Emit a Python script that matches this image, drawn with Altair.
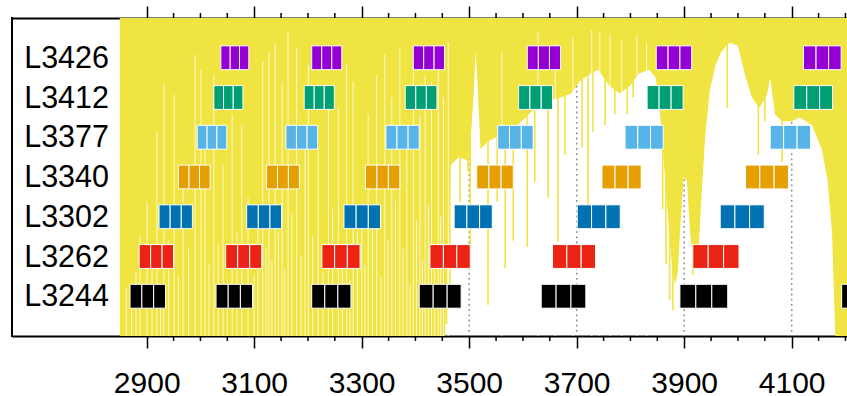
import altair as alt
import pandas as pd

# ---- rows (bottom to top) and their colours ----
rows = ["L3244", "L3262", "L3302", "L3340", "L3377", "L3412", "L3426"]
row_colors = ["#000000", "#EB2312", "#0072B2", "#E69F00", "#56B4E9", "#009E73", "#9400D3"]

# ---- wavelength coverage of each block (start / end) per row ----
starts_L3244 = [2869, 3029, 3207, 3407, 3634, 3892, 4193]
ends_L3244 = [2935, 3097, 3280, 3485, 3717, 3981, 4289]
starts_L3262 = [2886, 3047, 3226, 3427, 3655, 3916]
ends_L3262 = [2950, 3114, 3297, 3502, 3735, 4002]
starts_L3302 = [2923, 3086, 3267, 3472, 3701, 3967]
ends_L3302 = [2985, 3151, 3335, 3543, 3781, 4049]
starts_L3340 = [2959, 3123, 3307, 3514, 3747, 4014]
ends_L3340 = [3018, 3184, 3371, 3582, 3820, 4094]
starts_L3377 = [2994, 3159, 3345, 3553, 3790, 4060]
ends_L3377 = [3049, 3218, 3407, 3619, 3861, 4135]
starts_L3412 = [3025, 3193, 3381, 3592, 3831, 4104]
ends_L3412 = [3079, 3249, 3440, 3655, 3898, 4176]
starts_L3426 = [3038, 3207, 3396, 3608, 3848, 4122]
ends_L3426 = [3090, 3263, 3454, 3670, 3914, 4192]

# ---- transmission band: lower edge of the shaded region ----
env_x = [2850, 3455, 3460, 3466, 3480, 3500, 3508, 3512, 3516, 3521, 3535,
         3550, 3570, 3590, 3605, 3620, 3640, 3670, 3690, 3705, 3725, 3740, 3760,
         3780, 3800, 3815, 3835, 3847, 3855, 3862, 3870, 3877, 3883, 3888, 3893,
         3899, 3905, 3911, 3918, 3926, 3933, 3939, 3948, 3958, 3967, 3978, 3985, 4000,
         4013, 4026, 4040, 4054, 4060, 4069, 4082, 4100, 4115, 4138, 4156, 4167,
         4175, 4179, 4181, 4203]
env_y = [0.0, 0.0, 2.0, 4.3, 4.5, 4.4, 6.0, 7.2, 6.2, 4.7, 4.9,
         5.0, 5.0, 5.3, 5.5, 5.7, 5.9, 6.0, 6.1, 6.4, 6.6, 6.7, 6.3,
         6.1, 6.3, 6.6, 6.7, 6.5, 5.6, 4.4, 3.0, 1.8, 1.3, 1.6, 2.8,
         4.0, 3.9, 2.6, 1.8, 2.0, 3.7, 5.0, 6.2, 6.8, 7.1, 7.3, 7.38, 7.3,
         6.57, 6.0, 5.74, 6.07, 6.5, 5.57, 5.4, 5.4, 5.5, 5.3, 4.7, 3.9,
         2.6, 0.95, 0.0, 0.0]

# narrow transparent windows reaching up into the band
gap_x = [2862, 2872, 2880, 2887.5, 2900.6, 2910, 2919, 2926, 2932, 2941, 2951, 2959,
         2967.5, 2978, 2990, 3001, 3008.5, 3016, 3025, 3033, 3042, 3050, 3059, 3068,
         3077, 3088.5, 3099.6, 3107, 3116, 3122, 3127.5, 3133, 3139, 3145, 3152, 3157,
         3163, 3170, 3179, 3187, 3194.5, 3200.7, 3209, 3219, 3228, 3238, 3246, 3256.5,
         3264, 3272, 3278, 3284, 3292, 3300, 3306, 3312, 3320, 3328, 3336, 3343,
         3349, 3356, 3363, 3371, 3377, 3384, 3390, 3396, 3402, 3408.5, 3413, 3418,
         3424, 3430, 3436, 3442.5, 3447, 3452, 3461,
         3561, 3628, 3660, 3693, 3728, 3743, 3762, 3784, 3812, 3830]
gap_top = [1.2, 0.8, 1.6, 2.54, 3.38, 1.9, 5.14, 1.3, 6.37, 2.4, 6.07, 1.5,
           4.06, 2.2, 7.08, 6.70, 4.74, 1.8, 6.57, 2.3, 4.31, 1.4, 5.57, 2.6,
           5.31, 3.48, 1.54, 3.0, 6.90, 2.2, 7.15, 1.9, 7.38, 2.6, 6.40, 1.7,
           7.66, 3.1, 7.25, 2.0, 5.14, 6.83, 2.5, 4.74, 1.6, 6.0, 3.2, 5.74,
           2.1, 6.83, 1.4, 6.40, 2.6, 3.05, 1.8, 5.57, 2.8, 6.57, 1.5, 7.08,
           2.4, 6.0, 3.4, 7.25, 2.2, 4.74, 1.3, 6.83, 2.9, 5.57, 1.9, 6.57,
           3.3, 6.40, 2.0, 7.25, 3.0, 6.0, 7.4,
           7.16, 7.66, 7.35, 7.5, 7.7, 7.66, 7.6, 7.45, 7.6, 7.35]

# narrow absorption features hanging down from the band
line_x = [3458, 3464, 3483, 3498, 3502, 3535, 3552, 3567, 3582, 3608, 3622, 3647,
          3665, 3678, 3710, 3721, 3730, 3753, 3771, 3794, 3805, 3860, 3866, 3873,
          3879, 3916, 3925, 3980, 4038, 4050, 4082]
line_bottom = [0.3, 1.2, 3.38, 4.13, 1.7, 0.78, 3.38, 1.71, 2.4, 2.24, 3.88, 3.48,
               2.37, 4.56, 4.74, 3.05, 5.14, 5.31, 5.57, 5.57, 6.0, 3.2, 1.8, 0.9,
               0.65, 1.54, 1.79, 5.74, 4.56, 5.4, 4.38]

# ---- axis ticks ----
major_ticks = [2900, 3100, 3300, 3500, 3700, 3900, 4100]
minor_ticks = [2950, 3000, 3050, 3150, 3200, 3250, 3350, 3400, 3450, 3550, 3600,
               3650, 3750, 3800, 3850, 3950, 4000, 4050, 4150, 4200]

# ---- layout ----
W, H = 835, 318
FONT = "Liberation Sans"
YELLOW = "#F0E442"

x_scale = alt.Scale(domain=[2649.4, 4202.9], nice=False, zero=False)
y_scale = alt.Scale(domain=[0, 8], nice=False, zero=False)

# cells: each block split into three equal parts
starts = [starts_L3244, starts_L3262, starts_L3302, starts_L3340,
          starts_L3377, starts_L3412, starts_L3426]
ends = [ends_L3244, ends_L3262, ends_L3302, ends_L3340,
        ends_L3377, ends_L3412, ends_L3426]
cell_rows = []
for i, (row, ss, ee) in enumerate(zip(rows, starts, ends)):
    for s, e in zip(ss, ee):
        w = (e - s) / 3
        for k in range(3):
            cell_rows.append({"row": row, "x0": s + k * w, "x1": s + (k + 1) * w,
                              "y0": i + 1 - 0.3, "y1": i + 1 + 0.3})
cells = pd.DataFrame(cell_rows)
row_labels = pd.DataFrame({"row": rows, "pos": list(range(1, len(rows) + 1))})

band = pd.DataFrame({"x": env_x, "y": env_y})
gaps = pd.DataFrame({"x": gap_x, "top": gap_top})
lines = pd.DataFrame({"x": line_x, "bottom": line_bottom})
majors = pd.DataFrame({"x": major_ticks})
minors = pd.DataFrame({"x": minor_ticks})

bottom_axis = alt.Axis(orient="bottom", values=major_ticks, format="d",
                       tickSize=12, tickWidth=1.5, tickColor="black",
                       domainColor="black", domainWidth=2, grid=False,
                       labelFontSize=30, labelFont=FONT, labelColor="black",
                       labelPadding=20, labelFlush=False, labelOverlap=False,
                       title=None)
top_axis = alt.Axis(orient="top", values=major_ticks, labels=False,
                    tickSize=12, tickWidth=1.5, tickColor="black",
                    domainColor="black", domainWidth=2, grid=False, title=None)

grid = alt.Chart(majors).mark_rule(color="#8a8a8a", strokeWidth=1.5,
                                   strokeDash=[1.8, 3.4]).encode(
    x=alt.X("x:Q", scale=x_scale, axis=None),
    y=alt.value(0), y2=alt.value(H))

area = alt.Chart(band).mark_area(color=YELLOW, interpolate="linear").encode(
    x=alt.X("x:Q", scale=x_scale, axis=bottom_axis),
    y=alt.Y("y:Q", scale=y_scale, axis=None),
    y2=alt.datum(8))

hanging = alt.Chart(lines).mark_rule(color=YELLOW, strokeWidth=1.6).encode(
    x=alt.X("x:Q", scale=x_scale, axis=None),
    y=alt.Y("bottom:Q", scale=y_scale, axis=None),
    y2=alt.datum(8))

windows = alt.Chart(gaps).mark_rule(color="white", strokeWidth=1.0, opacity=0.75).encode(
    x=alt.X("x:Q", scale=x_scale, axis=None),
    y=alt.Y("top:Q", scale=y_scale, axis=None),
    y2=alt.datum(0))

blocks = alt.Chart(cells).mark_rect(stroke="white", strokeWidth=1, clip=True).encode(
    x=alt.X("x0:Q", scale=x_scale, axis=None),
    x2="x1:Q",
    y=alt.Y("y0:Q", scale=y_scale, axis=None),
    y2="y1:Q",
    color=alt.Color("row:N", scale=alt.Scale(domain=rows, range=row_colors), legend=None))

labels = alt.Chart(row_labels).mark_text(
    align="right", baseline="middle", font=FONT, fontSize=30.5, color="black", dy=1
).encode(
    x=alt.value(97),
    y=alt.Y("pos:Q", scale=y_scale, axis=None),
    text="row:N")

minor_bottom = alt.Chart(minors).mark_rule(color="black", strokeWidth=1.5).encode(
    x=alt.X("x:Q", scale=x_scale, axis=top_axis),
    y=alt.value(H), y2=alt.value(H + 5))

minor_top = alt.Chart(minors).mark_rule(color="black", strokeWidth=1.5).encode(
    x=alt.X("x:Q", scale=x_scale, axis=None),
    y=alt.value(-5), y2=alt.value(0))

left_edge = alt.Chart(majors).mark_rule(color="black", strokeWidth=2).encode(
    x=alt.value(0), y=alt.value(-1), y2=alt.value(H + 1))

chart = alt.layer(
    grid, area, hanging, windows, blocks, labels, minor_bottom, minor_top, left_edge
).resolve_axis(
    x="independent"
).properties(
    width=W, height=H,
    autosize=alt.AutoSizeParams(type="none"),
    padding={"left": 12, "top": 18, "right": 0, "bottom": 60},
    background="white",
).configure_view(stroke=None)

chart.save("out.html", embed_options={"renderer": "svg", "actions": False})
